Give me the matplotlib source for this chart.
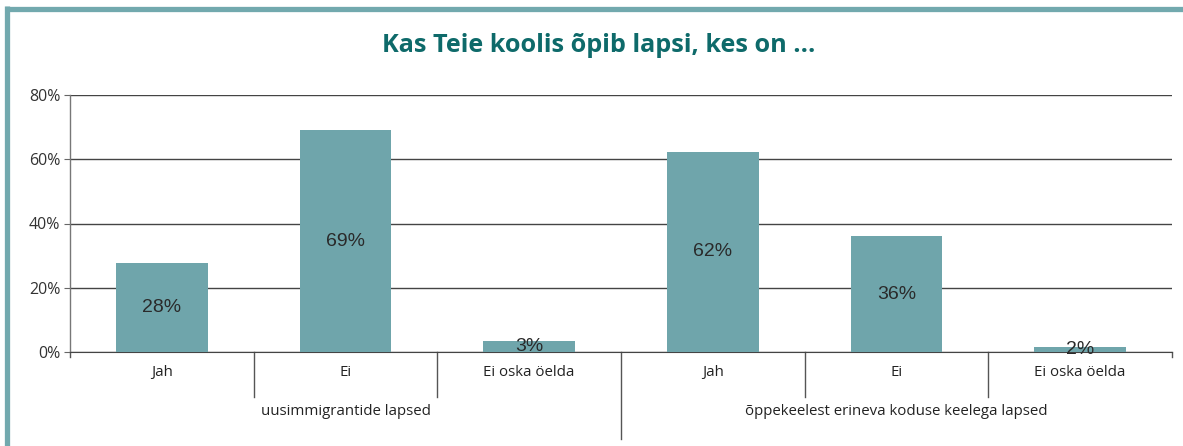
import matplotlib
matplotlib.use("Agg")
import matplotlib.pyplot as plt
import matplotlib.transforms as mtransforms
from matplotlib.lines import Line2D
import numpy as np

# data
answers = ["Jah", "Ei", "Ei oska öelda", "Jah", "Ei", "Ei oska öelda"]
groups = ["uusimmigrantide lapsed", "õppekeelest erineva koduse keelega lapsed"]
shares = [27.7, 69.1, 3.4, 62.3, 36.1, 1.6]
yticks = [0, 20, 40, 60, 80]

bar_color = "#6fa5ab"
teal_dark = "#0e6a6a"

fig = plt.figure(figsize=(11.83, 4.46), dpi=100)
ax = fig.add_axes([70/1183, 1-352/446, 1102/1183, 257/446])

index = np.arange(len(answers))
bars = ax.bar(index, shares, width=0.5, color=bar_color, zorder=3)

# value labels in the middle of each bar
for b, v in zip(bars, shares):
    ax.text(b.get_x() + b.get_width()/2, b.get_height()/2, "%.0f%%" % v,
            ha="center", va="center", fontsize=14, color="#2a2a2a",
            family="Liberation Sans", zorder=4)

ax.set_xlim(-0.5, len(answers) - 0.5)
ax.set_ylim(0, 80)
ax.set_yticks(yticks)
ax.set_yticklabels(["%d%%" % t for t in yticks], fontsize=11.5,
                   family="Open Sans", color="#333333")
ax.yaxis.grid(True, color="#444444", linewidth=1)
ax.set_axisbelow(True)
ax.tick_params(axis="y", length=4, color="#666666", pad=3)
ax.set_xticks([])

for s in ["top", "right"]:
    ax.spines[s].set_visible(False)
ax.spines["left"].set_color("#777777")
ax.spines["bottom"].set_color("#444444")
ax.spines["left"].set_linewidth(1)

trans = mtransforms.blended_transform_factory(ax.transData, ax.transAxes)

# category labels
for i, lab in enumerate(answers):
    ax.text(i, -0.078, lab, transform=trans, ha="center", va="center",
            fontsize=10.8, family="Open Sans", color="#222222")

# group labels
per_group = len(answers) // len(groups)
for g, lab in enumerate(groups):
    mid = g * per_group + (per_group - 1) / 2
    ax.text(mid, -0.23, lab, transform=trans, ha="center", va="center",
            fontsize=10.8, family="Open Sans", color="#222222")

# separators under the axis
for k in range(len(answers) + 1):
    xpos = k - 0.5
    if k == 0 or k == len(answers):
        bottom = -0.02
    elif k % per_group == 0:
        bottom = -0.338
    else:
        bottom = -0.175
    ax.plot([xpos, xpos], [0, bottom], transform=trans, color="#555555",
            linewidth=1, clip_on=False)

# title
fig.text(599/1183, 1-45/446, "Kas Teie koolis õpib lapsi, kes on ...",
         ha="center", va="center", fontsize=18.2, fontweight="bold",
         family="Open Sans", color=teal_dark)

# teal frame on left and top
fig.add_artist(Line2D([6.5/1183, 6.5/1183], [0, 1-6/446], transform=fig.transFigure,
                      color="#72a9ae", linewidth=3.8, solid_capstyle="butt"))
fig.add_artist(Line2D([4.5/1183, 1], [1-8.5/446, 1-8.5/446], transform=fig.transFigure,
                      color="#72a9ae", linewidth=3.8, solid_capstyle="butt"))

fig.savefig("out.png", dpi=100)
